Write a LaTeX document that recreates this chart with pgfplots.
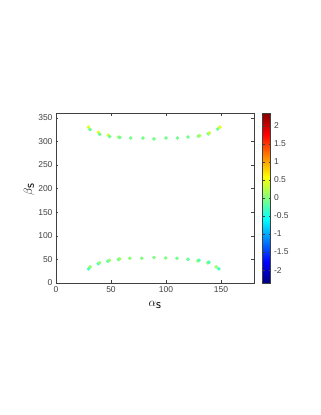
\documentclass[border=0pt]{standalone}
\usepackage{fontspec}
\setmainfont{Liberation Sans}
\usepackage{pgfplots}
\pgfplotsset{compat=1.18}
\definecolor{axgray}{HTML}{404040}

\begin{document}
\begin{tikzpicture}[x=1pt,y=1pt]
\begin{axis}[
  at={(0,0)},anchor=south west,
  scale only axis,width=198pt,height=170pt,
  xmin=0,xmax=180,ymin=0,ymax=360,
  xtick={0,50,100,150},ytick={0,50,...,350},
  tick align=inside,major tick length=2.5pt,
  axis line style={axgray},tick style={axgray},
  tick label style={font=\fontsize{8.5}{10}\selectfont,text=axgray},
  /pgf/number format/assume math mode=true,
  xlabel={$\alpha_{\textsf{s}}$},ylabel={$\beta_{\textsf{s}}$},
  label style={font=\fontsize{13}{15}\selectfont},
  xlabel style={yshift=-2pt},
  ylabel style={at={(ticklabel cs:0.55)},yshift=-3pt},
  colormap/jet,point meta min=-2.36,point meta max=2.36,
  colorbar,
  colorbar style={
    at={(parent axis.north east)},anchor=north west,xshift=0pt,
    width=8pt,height=170pt,scale only axis,
    ytick={-2,-1.5,...,2},
    yticklabel style={font=\fontsize{8.5}{10}\selectfont,text=axgray},
    /pgf/number format/assume math mode=true,
    axis line style={axgray},tick style={axgray},
    major tick length=2pt,
  },
]
\addplot[scatter,only marks,mark=*,mark size=1.6pt,point meta=explicit,
  scatter/use mapped color={draw=mapped color,fill=mapped color}]
  table[x=x,y=y,meta=c]{
x y c
29.5 330 0.45
31 325 -0.15
38.5 319 0.45
39.8 315 -0.15
47.5 313 0.4
48.8 310 -0.1
57 309 0.2
58 308 -0.1
68 307 -0.05
79 307 -0.05
89 305 -0.05
100 307 -0.05
110.5 307 -0.05
120 309 -0.05
129.5 311 -0.1
130.5 312 0.2
138.5 316 -0.1
139.5 318 0.35
147 326 -0.1
149 330 0.45
29.6 30 -0.3
31 34 0.1
38.5 41 -0.3
39.6 43 0.1
47 46 -0.2
48.5 48 0.1
56.8 50 -0.1
57.8 51 0.1
67 52.5 0.05
78 52.5 0.0
89 54 0.0
99.7 53 0.0
110 52.5 -0.05
120 50.5 -0.1
129 47 0.1
130 48 -0.2
138 42.6 0.1
139 44 -0.25
145.6 34 0.1
148 30 -0.3
};
\end{axis}
\path (-56,-132) rectangle (265,283);
\end{tikzpicture}
\end{document}
